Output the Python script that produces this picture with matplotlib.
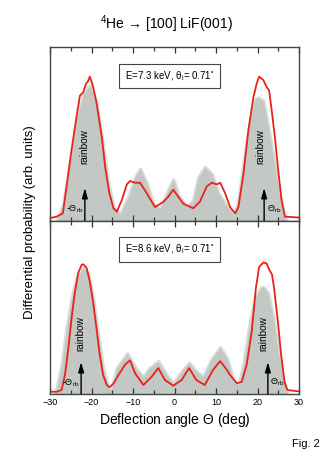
import matplotlib
matplotlib.use("Agg")
import matplotlib.pyplot as plt
import numpy as np

plt.rcParams['font.family'] = ['Liberation Sans', 'DejaVu Sans']
plt.rcParams['mathtext.fontset'] = 'custom'
plt.rcParams['mathtext.rm'] = 'Liberation Sans'
plt.rcParams['mathtext.it'] = 'Liberation Sans:italic'
plt.rcParams['mathtext.default'] = 'regular'

# upper panel, E = 7.3 keV : red curve (theory) and grey (experiment)
top_red_x = [-30, -28.4, -26.9, -26, -24.8, -23.6, -22.8, -22, -21.3, -20.9, -20.4, -19.7,
             -18.8, -17.5, -16.7, -15.7, -14.7, -13.9, -12.7, -11.5, -10.7, -9.5, -8.3, -6.7,
             -4.7, -2.7, -1.5, -0.3, 0.9, 2.1, 4.5, 6.1, 7.8, 9, 10.2, 11, 12.2, 13.4, 14.6,
             15.4, 16.6, 17.8, 19, 19.8, 20.4, 21.4, 22.2, 22.8, 23.4, 24.2, 25, 25.8, 26.6,
             30]
top_red_y = [0.017, 0.025, 0.044, 0.20, 0.41, 0.60, 0.72, 0.74, 0.79, 0.80, 0.83, 0.78,
             0.68, 0.48, 0.31, 0.16, 0.073, 0.053, 0.12, 0.21, 0.23, 0.22, 0.22, 0.16,
             0.08, 0.11, 0.14, 0.18, 0.14, 0.10, 0.073, 0.11, 0.20, 0.22, 0.21, 0.22, 0.16,
             0.08, 0.044, 0.08, 0.27, 0.52, 0.71, 0.79, 0.83, 0.81, 0.77, 0.75, 0.64, 0.48,
             0.29, 0.12, 0.025, 0.02]
top_grey_x = [-28.4, -26.8, -25.2, -23.6, -22, -20.4, -18.8, -17.2, -16, -14.7, -13.1,
              -11.1, -9.5, -8.3, -6.7, -5.1, -3.5, -1.5, -0.3, 0.9, 2.9, 4.5, 5.7, 7.3, 9,
              10.6, 12.2, 13.4, 14.4, 15.4, 16.6, 18.2, 19.4, 20.2, 21.4, 22.6, 23.8, 25,
              26.1, 27]
top_grey_y = [0.0, 0.10, 0.33, 0.58, 0.73, 0.78, 0.68, 0.43, 0.22, 0.08, 0.04,
              0.14, 0.25, 0.30, 0.22, 0.10, 0.07, 0.18, 0.24, 0.15, 0.08, 0.12, 0.25, 0.31, 0.27,
              0.16, 0.10, 0.06, 0.03, 0.12, 0.33, 0.58, 0.70, 0.71, 0.69, 0.54, 0.37, 0.20,
              0.063, 0.0]

# lower panel, E = 8.6 keV
bot_red_x = [-30, -28.4, -27.2, -26.4, -25.6, -24.8, -24, -23.2, -22.4, -22, -21.2, -20.4,
             -19.6, -18.8, -18, -17.2, -16.3, -15.7, -14.7, -13.5, -11.9, -10.7, -9.5, -7.5,
             -5.5, -3.9, -2.3, -0.3, 1.7, 3.5, 5.3, 7.3, 9.3, 11, 12.6, 13.4, 15, 16.2,
             17.4, 18.6, 19.6, 20.4, 21.4, 22.2, 22.8, 23.5, 24, 24.9, 25.7, 26.5, 27.2,
             30]
bot_red_y = [0.013, 0.013, 0.023, 0.11, 0.26, 0.44, 0.59, 0.70, 0.746, 0.75, 0.73, 0.65,
             0.53, 0.38, 0.225, 0.11, 0.052, 0.039, 0.06, 0.11, 0.17, 0.195, 0.12, 0.052,
             0.10, 0.15, 0.08, 0.048, 0.08, 0.15, 0.08, 0.052, 0.14, 0.19, 0.14, 0.11,
             0.062, 0.07, 0.17, 0.36, 0.61, 0.735, 0.76, 0.755, 0.72, 0.69, 0.61, 0.42,
             0.225, 0.071, 0.023, 0.015]
bot_grey_x = [-29, -28.4, -27.2, -26, -24.8, -23.6, -22, -20.8, -19.6, -18.4, -17.2, -16,
              -15.3, -13.9, -11.4, -9.1, -7.5, -6, -3.9, -1.9, -0.3, 1.7, 3.5, 5.3, 6.9,
              8.9, 11, 12.6, 14.2, 15.4, 16.6, 18.2, 19.4, 20.6, 21.4, 22.6, 23.8, 25, 26.2,
              27.2]
bot_grey_y = [0.0, 0.03, 0.17, 0.38, 0.555, 0.67, 0.73, 0.70, 0.555, 0.34, 0.15, 0.04,
              0.02, 0.15, 0.235, 0.14, 0.10, 0.15, 0.19, 0.11, 0.06, 0.13, 0.18, 0.13, 0.10,
              0.20, 0.27, 0.21, 0.08, 0.05, 0.17, 0.42, 0.55, 0.61, 0.62, 0.58, 0.44, 0.245,
              0.09, 0.0]

labels = ["E=7.3 keV, $\\theta_i$= 0.71$^{\\circ}$", "E=8.6 keV, $\\theta_i$= 0.71$^{\\circ}$"]
theta_rb = [21.6, 22.5]
arrow_top = [0.19, 0.185]
rainbow_x = [(-21.6, 20.6), (-22.8, 21.3)]
rainbow_y = [0.43, 0.35]

W, H = 332, 470
fig = plt.figure(figsize=(W / 100, H / 100), dpi=100)
left, right = 50 / W, 299 / W
ax_top = fig.add_axes([left, 1 - 221 / H, right - left, (221 - 47) / H])
ax_bot = fig.add_axes([left, 1 - 394 / H, right - left, (394 - 221) / H])

panels = [
    (ax_top, top_red_x, top_red_y, top_grey_x, top_grey_y),
    (ax_bot, bot_red_x, bot_red_y, bot_grey_x, bot_grey_y),
]

for i, (ax, rx, ry, gx, gy) in enumerate(panels):
    ax.fill_between(gx, 0, gy, color="#d9dcda", lw=2.5, edgecolor="#d9dcda")
    ax.fill_between(gx, 0, gy, color="#c3c8c5", lw=0)
    ax.plot(rx, ry, color="#e8231b", lw=1.3, solid_joinstyle="round")
    ax.set_xlim(-30, 30)
    ax.set_ylim(0, 1)
    ax.set_yticks([])
    ax.set_xticks(np.arange(-30, 31, 10))
    ax.set_xticks(np.arange(-25, 30, 10), minor=True)
    ax.tick_params(axis="x", which="both", direction="in", top=True, bottom=True,
                   color="#333333", width=0.9)
    ax.tick_params(axis="x", which="major", length=4.5, labelsize=6.5, pad=3)
    ax.tick_params(axis="x", which="minor", length=3)
    for s in ax.spines.values():
        s.set_color("#444444")
        s.set_linewidth(1.0)

    # rainbow angle markers
    for sgn in (-1, 1):
        xr = sgn * theta_rb[i]
        ax.annotate("", xy=(xr, arrow_top[i]), xytext=(xr, 0),
                    arrowprops=dict(arrowstyle="-|>,head_length=0.6,head_width=0.17",
                                    color="black", lw=1.0, mutation_scale=10,
                                    shrinkA=0, shrinkB=0))
    for xt in rainbow_x[i]:
        ax.text(xt, rainbow_y[i], "rainbow", rotation=90, ha="center", va="center",
                fontsize=7.2)
    ax.text(-theta_rb[i] - 0.4, 0.065, "-$\\Theta_{rb}$", ha="right", va="center",
            fontsize=6.5)
    ax.text(theta_rb[i] + 0.6, 0.07, "$\\Theta_{rb}$", ha="left", va="center", fontsize=6.5)

    ax.text(0.48, 0.835, labels[i], transform=ax.transAxes, ha="center", va="center",
            fontsize=7,
            bbox=dict(boxstyle="square,pad=0.55", fc="white", ec="#444444", lw=0.8))

ax_top.tick_params(axis="x", labelbottom=False)
ax_bot.set_xlabel("Deflection angle $\\Theta$ (deg)", fontsize=10, labelpad=3)

fig.text(166 / W, 1 - 24 / H, "$^4$He \u2192 [100] LiF(001)", ha="center", va="center",
         fontsize=10)
fig.text(30 / W, 1 - 222 / H, "Differential probability (arb. units)", rotation=90,
         ha="center", va="center", fontsize=9.5)
fig.text(320 / W, 1 - 444 / H, "Fig. 2", ha="right", va="center", fontsize=8)

fig.savefig("out.png", dpi=100)
